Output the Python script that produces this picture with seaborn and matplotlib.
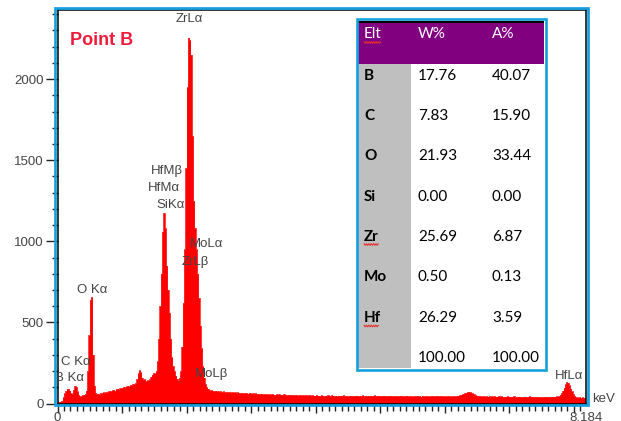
import numpy as np
import pandas as pd
import matplotlib
matplotlib.use("Agg")
import matplotlib.pyplot as plt
from matplotlib.patches import Rectangle
from matplotlib.ticker import MultipleLocator
import seaborn as sns

# ---------------- data ----------------
# EDS spectrum, counts per 0.02 keV channel starting at 0 keV
counts = [
    8, 10, 12, 16, 38, 62, 76, 88, 92, 80,
    62, 58, 84, 108, 102, 74, 52, 44, 46, 50,
    54, 58, 80, 200, 420, 640, 655, 300, 110, 66,
    58, 61, 56, 64, 62, 68, 66, 71, 69, 74,
    78, 74, 81, 85, 80, 88, 92, 87, 95, 93,
    98, 104, 97, 106, 110, 104, 115, 112, 121, 118,
    126, 150, 185, 205, 192, 160, 146, 150, 138, 142,
    140, 150, 165, 178, 188, 185, 200, 260, 400, 600,
    800, 1060, 1175, 1080, 850, 700, 560, 400, 285, 230,
    200, 172, 152, 140, 158, 200, 350, 620, 950, 1450,
    1950, 2255, 2240, 2150, 1650, 1250, 1080, 950, 800, 650,
    480, 340, 230, 160, 120, 100, 90, 84, 80, 82,
    78, 76, 80, 74, 77, 72, 75, 70, 74, 71,
    69, 72, 68, 71, 66, 70, 67, 69, 65, 68,
    66, 63, 67, 64, 62, 66, 63, 60, 65, 62,
    60, 63, 59, 62, 58, 61, 57, 60, 58, 56,
    59, 56, 58, 55, 57, 54, 58, 55, 53, 56,
    54, 57, 53, 55, 52, 56, 53, 51, 54, 52,
    55, 51, 53, 50, 54, 52, 49, 53, 51, 50,
    52, 49, 51, 48, 53, 50, 47, 51, 49, 48,
    50, 47, 49, 46, 51, 48, 45, 49, 47, 50,
    48, 45, 50, 47, 46, 49, 44, 48, 46, 49,
    47, 50, 45, 48, 46, 44, 49, 47, 45, 48,
    46, 49, 47, 44, 48, 45, 50, 46, 48, 45,
    49, 46, 48, 45, 47, 50, 44, 48, 46, 47,
    45, 48, 46, 49, 44, 47, 45, 48, 46, 44,
    47, 45, 48, 44, 46, 49, 45, 47, 43, 46,
    48, 45, 47, 44, 46, 43, 47, 45, 48, 44,
    46, 43, 47, 45, 44, 47, 45, 44, 46, 45,
    47, 44, 46, 45, 48, 44, 47, 46, 45, 43,
    46, 44, 47, 45, 43, 46, 44, 47, 45, 48,
    47, 50, 53, 56, 60, 64, 67, 70, 72, 70,
    66, 62, 57, 53, 49, 47, 45, 46, 43, 45,
    44, 42, 45, 43, 46, 42, 44, 41, 45, 43,
    42, 45, 41, 44, 42, 40, 43, 41, 44, 42,
    40, 43, 41, 44, 39, 42, 40, 43, 41, 39,
    42, 40, 43, 39, 41, 44, 40, 42, 39, 41,
    43, 40, 42, 39, 41, 38, 42, 40, 43, 39,
    41, 39, 42, 40, 43, 41, 44, 43, 48, 55,
    66, 80, 98, 118, 132, 128, 112, 92, 74, 58,
    46, 40, 37, 36, 38, 35, 37, 36, 35,
]
channel_width = 0.02
energy_max = 8.184

# peak identification labels: text, line energy (keV), label height (counts)
peak_names = ["ZrLα", "HfMβ", "HfMα", "SiKα", "MoLα", "ZrLβ",
              "O Kα", "C Kα", "B Kα", "MoLβ", "HfLα"]
peak_energies = [2.042, 1.698, 1.650, 1.745, 2.305, 2.128,
                 0.530, 0.280, 0.183, 2.392, 7.930]
peak_label_heights = [2370, 1433, 1328, 1224, 983, 872,
                      700, 256, 160, 182, 170]

# quantification table
elements = ["B", "C", "O", "Si", "Zr", "Mo", "Hf", ""]
weight_pct = ["17.76", "7.83", "21.93", "0.00", "25.69", "0.50", "26.29", "100.00"]
atomic_pct = ["40.07", "15.90", "33.44", "0.00", "6.87", "0.13", "3.59", "100.00"]
table_header = ["Elt", "W%", "A%"]

# ---------------- style ----------------
sns.set_theme(style="white")
plt.rcParams["font.family"] = ["Liberation Sans", "DejaVu Sans"]

W, H = 621, 421
BLUE = "#14A0DE"
TXT = "#444444"
RED = "#FF0000"

fig = plt.figure(figsize=(W / 100, H / 100), dpi=100)


def fx(px):
    return px / W


def fy(py):
    return 1 - py / H


ax_l, ax_r, ax_t, ax_b = 57.5, 585.8, 10.2, 403.5
ax = fig.add_axes([fx(ax_l), fy(ax_b), (ax_r - ax_l) / W, (ax_b - ax_t) / H])

n = len(counts)
edges = [round(i * channel_width, 4) for i in range(n + 1)]
spec = pd.DataFrame({"energy": edges, "counts": counts + [counts[-1]]})

# stepped outline of the spectrum, then the filled area under it
sns.lineplot(data=spec, x="energy", y="counts", drawstyle="steps-post",
             estimator=None, color=RED, linewidth=0.5, ax=ax)
ax.fill_between(spec["energy"], spec["counts"], step="post",
                color=RED, linewidth=0)

ax.set_xlim(0, energy_max)
ax.set_ylim(0, 2425)
ax.set_xlabel("")
ax.set_ylabel("")

for s in ax.spines.values():
    s.set_color("black")
    s.set_linewidth(1.1)
    s.set_visible(True)

ax.set_xticks(np.arange(0, 9, 1))
ax.set_xticklabels([""] * 9)
ax.xaxis.set_minor_locator(MultipleLocator(0.1))
ax.set_yticks([0, 500, 1000, 1500, 2000])
ax.yaxis.set_minor_locator(MultipleLocator(100))

ax.tick_params(axis="x", which="major", direction="out", bottom=True,
               length=6.8, width=1.0, color="#222222", pad=0.5,
               labelsize=9.5, labelcolor=TXT)
ax.tick_params(axis="x", which="minor", direction="out", bottom=True,
               length=4.7, width=1.0, color="#222222")
ax.tick_params(axis="y", which="major", direction="out", left=True,
               length=9, width=1.0, color="#222222", pad=0.8,
               labelsize=9.5, labelcolor=TXT)
ax.tick_params(axis="y", which="minor", direction="out", left=True,
               length=4.2, width=1.0, color="#222222")

# end labels of the energy axis, sitting on the bottom edge
for xv, lab in [(0.0, "0"), (energy_max, "8.184")]:
    fig.text(fx(ax_l + xv / energy_max * (ax_r - ax_l)), fy(420.6), lab,
             ha="center", va="baseline", fontsize=9.5, color=TXT)

for name, e, h in zip(peak_names, peak_energies, peak_label_heights):
    ax.text(e, h, name, ha="center", va="center", fontsize=9.5,
            color=TXT, clip_on=True)

fig.text(fx(592.5), fy(402.5), "keV", ha="left", va="baseline",
         fontsize=9.5, color=TXT)

fig.text(fx(70.5), fy(45), "Point B", ha="left", va="baseline",
         fontsize=13, fontweight="bold", color="#EE1C3A")

# blue selection frame around the spectrum
fig.add_artist(Rectangle((fx(55.3), fy(405.3)), (587.8 - 55.3) / W,
                         (405.3 - 8.3) / H, transform=fig.transFigure,
                         fill=False, edgecolor=BLUE, linewidth=1.95,
                         zorder=20))

# ---------------- quantification table ----------------
tx0, tx1, ty0, ty1 = 354, 548, 17, 372
tab = fig.add_axes([fx(tx0), fy(ty1), (tx1 - tx0) / W, (ty1 - ty0) / H],
                   zorder=5)
tab.set_xlim(tx0, tx1)
tab.set_ylim(ty1, ty0)
tab.axis("off")

in_l, in_r, in_t, in_b = 358.3, 544.3, 21.0, 368.3
tab.add_patch(Rectangle((in_l, in_t), in_r - in_l, in_b - in_t,
                        facecolor="white", edgecolor="none"))
tab.add_patch(Rectangle((in_l, 22.7), in_r - in_l, 64 - 22.7,
                        facecolor="#800080", edgecolor="none"))
tab.add_patch(Rectangle((in_l, 21.0), in_r - in_l, 1.8,
                        facecolor="black", edgecolor="none"))
tab.add_patch(Rectangle((in_l, 64), 411 - in_l, in_b - 64,
                        facecolor="#BFBFBF", edgecolor="none"))
tab.add_patch(Rectangle((356.7, 19.5), 545.5 - 356.7, 369.7 - 19.5,
                        fill=False, edgecolor=BLUE, linewidth=1.9,
                        clip_on=False))

col_x = [364, 418, 492]
tfont = ["Lato", "DejaVu Sans"]
for x, t in zip(col_x, table_header):
    tab.text(x, 34, t, ha="left", va="center", fontsize=11,
             color="white", family=tfont)

row_y = [76, 116, 156.5, 196.7, 236.7, 277.3, 318.3, 358.3]
for y, el, w, a in zip(row_y, elements, weight_pct, atomic_pct):
    tab.text(col_x[0], y, el, ha="left", va="center", fontsize=11,
             fontweight="bold", color="black", family=tfont)
    tab.text(col_x[1], y, w, ha="left", va="center", fontsize=11,
             color="black", family=tfont)
    tab.text(col_x[2], y, a, ha="left", va="center", fontsize=11,
             color="black", family=tfont)


def squiggle(x0, x1, y):
    xs = np.arange(x0, x1 + 0.01, 1.2)
    ys = y + 0.8 * np.where(np.arange(len(xs)) % 2 == 0, -1, 1)
    tab.plot(xs, ys, color="#E53030", linewidth=0.8)


squiggle(364, 381, 42.5)
squiggle(364, 379, 244.5)
squiggle(364, 379, 326)

fig.savefig("out.png", dpi=100)
